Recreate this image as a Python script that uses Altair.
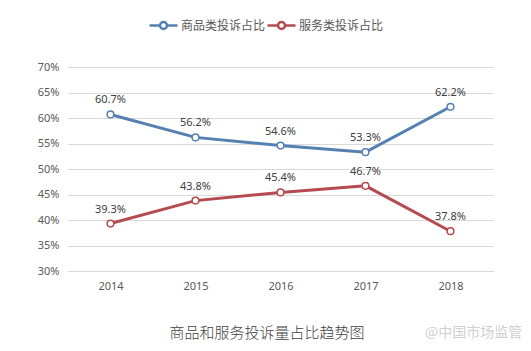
import altair as alt
import pandas as pd

years = ["2014", "2015", "2016", "2017", "2018"]
goods = [60.7, 56.2, 54.6, 53.3, 62.2]
services = [39.3, 43.8, 45.4, 46.7, 37.8]
series_names = ["商品类投诉占比", "服务类投诉占比"]
colors = ["#5580B0", "#B54A50"]
y_ticks = [30, 35, 40, 45, 50, 55, 60, 65, 70]
chart_title = "商品和服务投诉量占比趋势图"
watermark = "@中国市场监管"

rows = []
for name, vals in zip(series_names, [goods, services]):
    for y, v in zip(years, vals):
        rows.append({"year": y, "series": name, "value": v, "label": f"{v:.1f}%"})
df = pd.DataFrame(rows)

FONT = "Noto Sans CJK SC"
x_enc = alt.X("year:N", title=None,
              scale=alt.Scale(type="point", padding=0.5),
              axis=alt.Axis(labelAngle=0, ticks=False, domain=True, domainColor="#d9d9d9",
                            labelFont="Noto Sans", labelFontSize=11, labelColor="#595959",
                            labelPadding=9, grid=False))
y_enc = alt.Y("value:Q", title=None,
              scale=alt.Scale(domain=[30, 70], nice=False, zero=False),
              axis=alt.Axis(values=y_ticks, labelExpr="datum.value + '%'", ticks=False,
                            domain=False, gridColor="#d9d9d9", gridWidth=1,
                            labelFont="Noto Sans", labelFontSize=11, labelColor="#595959",
                            labelPadding=9))
color_scale = alt.Scale(domain=series_names, range=colors)

legend_path = "M-1,0H0.5M1.5,0H3M1.5,0A0.5,0.5,0,1,1,0.5,0A0.5,0.5,0,1,1,1.5,0"

lines = alt.Chart(df).mark_line(strokeWidth=3).encode(
    x=x_enc, y=y_enc,
    color=alt.Color("series:N", scale=color_scale, sort=series_names,
                    legend=alt.Legend(title=None, orient="none", direction="horizontal",
                                      legendX=80, legendY=-50,
                                      symbolType=legend_path, symbolSize=196,
                                      symbolStrokeWidth=2.5, labelOffset=16,
                                      columnPadding=-16,
                                      labelFont=FONT, labelFontSize=12,
                                      labelColor="#595959")),
    detail="series:N",
)

points = alt.Chart(df).mark_point(shape="circle", filled=True, fill="white",
                                  size=45, strokeWidth=1.5, opacity=1).encode(
    x=x_enc, y=y_enc,
    stroke=alt.Stroke("series:N", scale=color_scale, legend=None),
)

labels = alt.Chart(df).mark_text(baseline="bottom", dy=-9, font="Noto Sans",
                                 fontSize=11, color="#404040").encode(
    x=x_enc, y=y_enc, text="label:N",
)

title_df = pd.DataFrame({"t": [chart_title]})
title_mark = alt.Chart(title_df).mark_text(font=FONT, fontSize=15, color="#404040",
                                           fontWeight=300,
                                           align="center", baseline="middle").encode(
    x=alt.value(199), y=alt.value(266), text="t:N")

wm_df = pd.DataFrame({"t": [watermark]})
wm_mark = alt.Chart(wm_df).mark_text(font=FONT, fontSize=14, color="#d0d0d0",
                                     align="left", baseline="middle").encode(
    x=alt.value(357), y=alt.value(266), text="t:N")

chart = alt.layer(lines, points, labels, title_mark, wm_mark).properties(
    width=425, height=204,
    padding={"left": 68, "top": 67, "right": 38, "bottom": 80},
    autosize=alt.AutoSizeParams(type="none"),
    background="white",
).configure_view(stroke=None)

chart.save("out.html", embed_options={"renderer": "svg", "actions": False})
